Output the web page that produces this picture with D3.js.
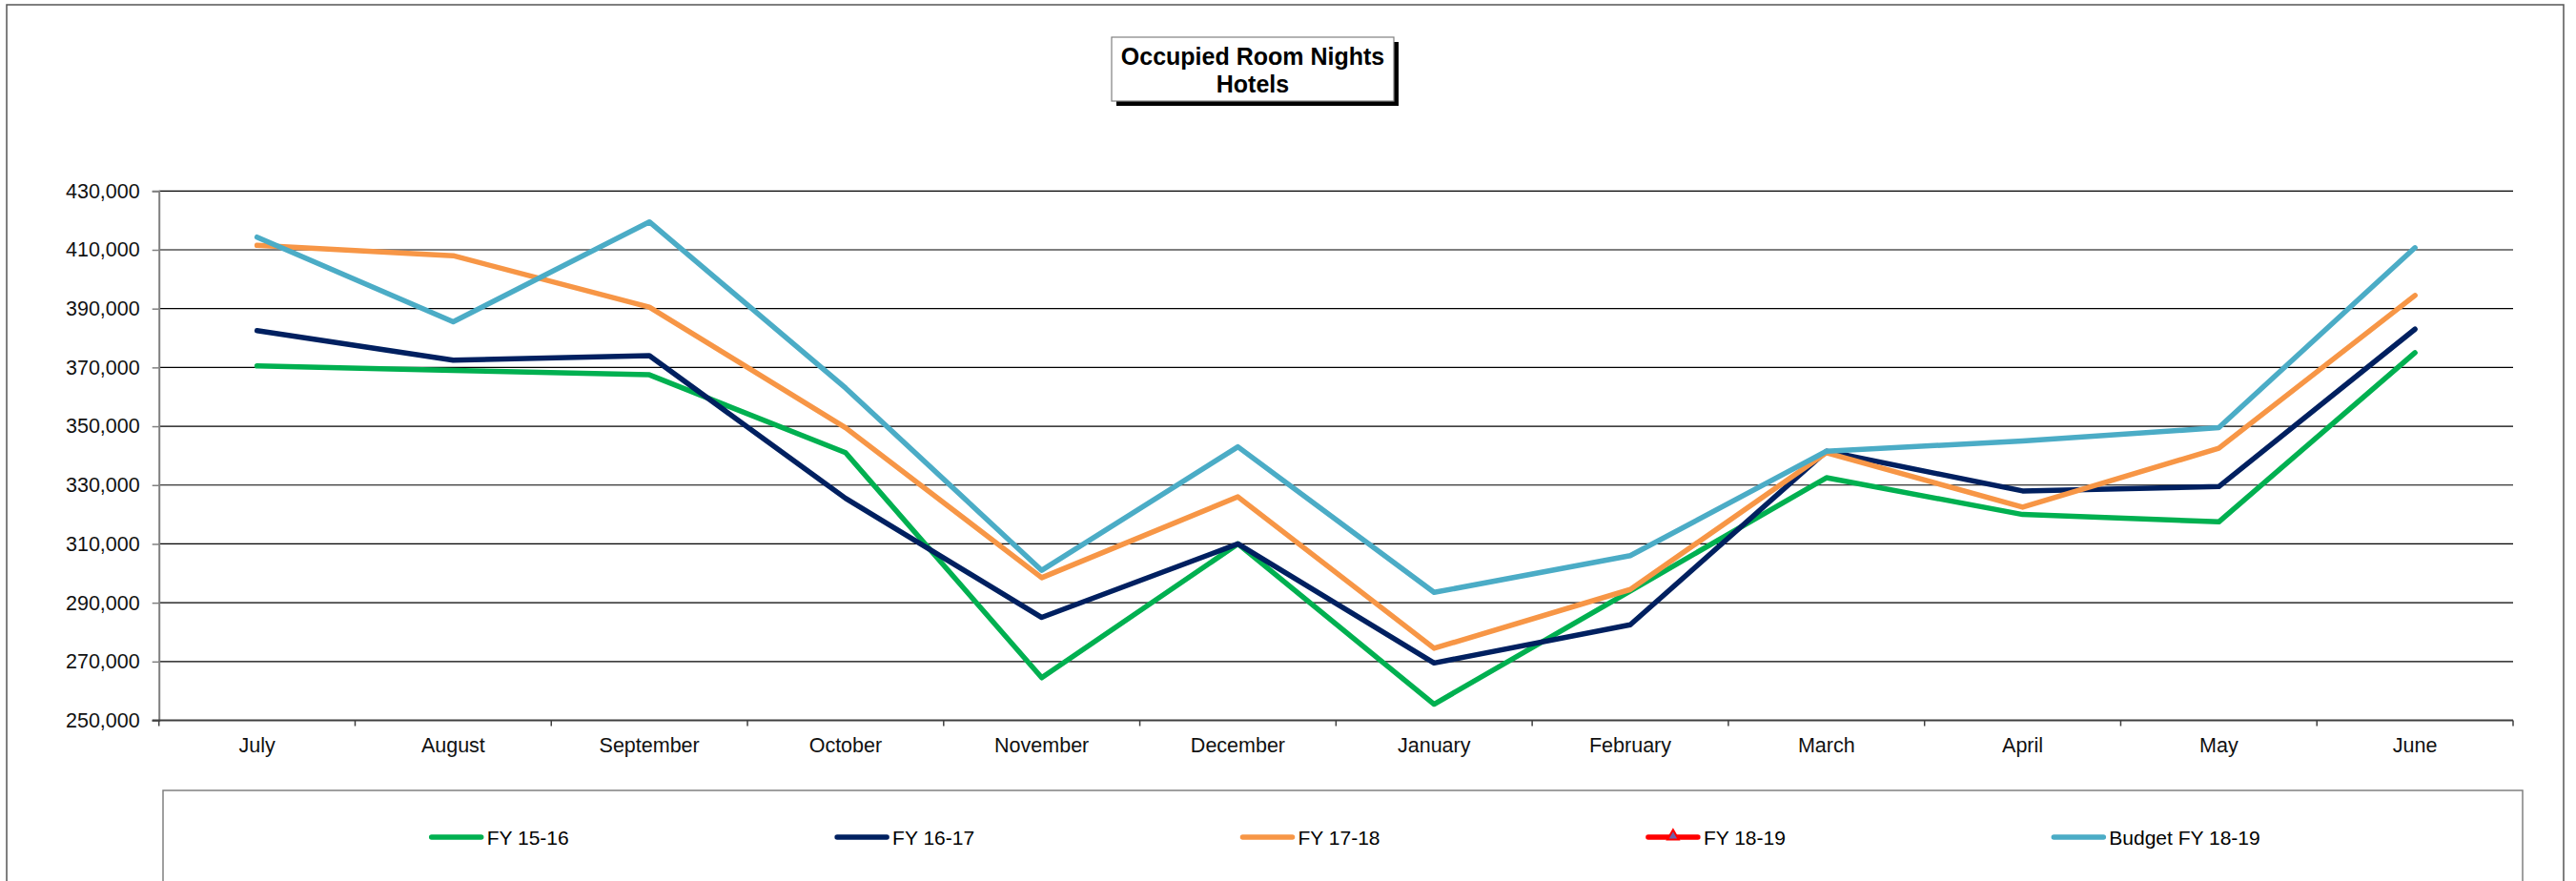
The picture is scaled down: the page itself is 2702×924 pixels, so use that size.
<!DOCTYPE html>
<html>
<head>
<meta charset="utf-8">
<script src="https://cdn.jsdelivr.net/npm/d3@7"></script>
<style>
  html, body { margin: 0; padding: 0; background: #fff; }
  svg { display: block; font-family: "Liberation Sans", Arial, sans-serif; }
</style>
</head>
<body>
<svg id="chart" width="2702" height="924"></svg>
<script>
const months = ["July","August","September","October","November","December","January","February","March","April","May","June"];
const yTicks = [250000,270000,290000,310000,330000,350000,370000,390000,410000,430000];
const fy1516 = [370500,369000,367500,341000,264500,310000,255500,294000,332500,320000,317500,375000];
const fy1617 = [382500,372500,374000,325500,285000,310000,269500,282500,341500,328000,329500,383000];
const fy1718 = [411500,408000,390500,349500,298500,326000,274500,294500,341000,322500,342500,394500];
const fy1819 = [];
const budget1819 = [414300,385500,419500,363000,301000,343000,293500,306000,341500,345000,349500,410700];
const seriesNames = ["FY 15-16","FY 16-17","FY 17-18","FY 18-19","Budget FY 18-19"];
const seriesColors = ["#00B050","#002060","#F79646","#FF0000","#4BACC6"];
const seriesData = [fy1516, fy1617, fy1718, fy1819, budget1819];

(function () {
const svg = d3.select("#chart");

// outer border
svg.append("rect").attr("x",7).attr("y",5).attr("width",2682).attr("height",940)
  .attr("fill","none").attr("stroke","#555").attr("stroke-width",1.5);

const pLeft = 166.7, pRight = 2636, pTop = 200.3, pBottom = 755.5;
const x = d3.scaleBand().domain(months).range([pLeft, pRight]).padding(0);
const y = d3.scaleLinear().domain([250000, 430000]).range([pBottom, pTop]);

// gridlines
svg.append("g").selectAll("line").data(yTicks.filter(t => t !== 250000)).join("line")
  .attr("x1", pLeft).attr("x2", pRight)
  .attr("y1", d => y(d)).attr("y2", d => y(d))
  .attr("stroke", "#000").attr("stroke-width", 1.2);

// y axis
const yAxis = d3.axisLeft(y).tickValues(yTicks).tickSize(7).tickPadding(13)
  .tickFormat(d3.format(","));
const gy = svg.append("g").attr("transform", `translate(${pLeft},0)`).call(yAxis);
gy.select(".domain").attr("stroke", "#808080").attr("stroke-width", 2);
gy.selectAll(".tick line").attr("stroke", "#808080").attr("stroke-width", 1.5);
gy.selectAll(".tick text").attr("font-size", 21.5).attr("fill", "#111")
  .attr("font-family", '"Liberation Sans", Arial, sans-serif');

// x axis line
svg.append("line").attr("x1", pLeft - 7).attr("x2", pRight).attr("y1", pBottom).attr("y2", pBottom)
  .attr("stroke", "#404040").attr("stroke-width", 1.8);
// x ticks between categories
const boundaries = months.map(m => x(m)).concat([pRight]);
svg.append("g").selectAll("line").data(boundaries).join("line")
  .attr("x1", d => d).attr("x2", d => d).attr("y1", pBottom).attr("y2", pBottom + 6)
  .attr("stroke", "#404040").attr("stroke-width", 1.5);
// x labels
svg.append("g").selectAll("text").data(months).join("text")
  .attr("x", d => x(d) + x.bandwidth() / 2).attr("y", 789)
  .attr("text-anchor", "middle").attr("font-size", 21.5).attr("fill", "#111")
  .text(d => d);

// lines
const line = d3.line()
  .x((d, i) => x(months[i]) + x.bandwidth() / 2)
  .y(d => y(d));
seriesData.forEach((data, k) => {
  if (!data.length) return;
  svg.append("path").datum(data)
    .attr("d", line).attr("fill", "none")
    .attr("stroke", seriesColors[k]).attr("stroke-width", 5.5)
    .attr("stroke-linejoin", "round").attr("stroke-linecap", "round");
});

// title box
svg.append("rect").attr("x", 1171).attr("y", 44).attr("width", 296).attr("height", 67).attr("fill", "#000");
svg.append("rect").attr("x", 1166).attr("y", 39).attr("width", 296).attr("height", 67)
  .attr("fill", "#fff").attr("stroke", "#808080").attr("stroke-width", 1.2);
svg.append("text").attr("x", 1314).attr("y", 68).attr("text-anchor", "middle")
  .attr("font-size", 25).attr("font-weight", "bold").text("Occupied Room Nights");
svg.append("text").attr("x", 1314).attr("y", 97).attr("text-anchor", "middle")
  .attr("font-size", 25).attr("font-weight", "bold").text("Hotels");

// legend box
svg.append("rect").attr("x", 171).attr("y", 829).attr("width", 2475).attr("height", 120)
  .attr("fill", "none").attr("stroke", "#808080").attr("stroke-width", 1.5);
const legStart = 450.7, legStep = 425.4, legY = 878;
const lg = svg.append("g").selectAll("g").data(seriesNames).join("g")
  .attr("transform", (d, i) => `translate(${legStart + i * legStep},${legY})`);
lg.append("line").attr("x1", 2).attr("x2", 54).attr("y1", 0).attr("y2", 0)
  .attr("stroke", (d, i) => seriesColors[i]).attr("stroke-width", 5.5)
  .attr("stroke-linecap", "round");
lg.filter((d, i) => i === 3).append("path")
  .attr("d", d3.symbol().type(d3.symbolTriangle).size(60)())
  .attr("transform", "translate(28,-1)")
  .attr("fill", "#7060A8").attr("stroke", "#FF0000").attr("stroke-width", 2);
lg.append("text").attr("x", 60).attr("y", 7.5).attr("font-size", 21).attr("fill", "#000")
  .text(d => d);
})();
</script>
</body>
</html>
